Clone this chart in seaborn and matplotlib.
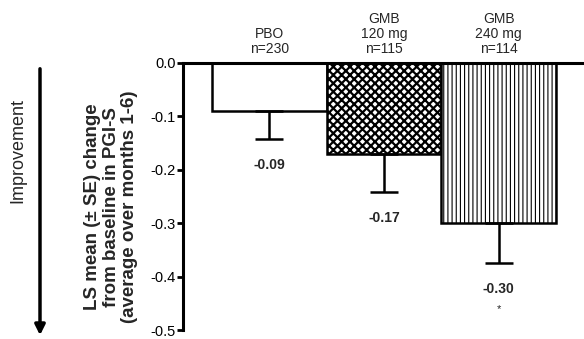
import matplotlib
matplotlib.use("Agg")
import matplotlib.pyplot as plt
import seaborn as sns
import pandas as pd
import numpy as np

sns.set_theme(style="white")
plt.rcParams['font.family'] = ['Liberation Sans', 'DejaVu Sans']
plt.rcParams['axes.unicode_minus'] = False
plt.rcParams['hatch.linewidth'] = 1.0

groups = ["PBO\nn=230", "GMB\n120 mg\nn=115", "GMB\n240 mg\nn=114"]
means = [-0.09, -0.17, -0.30]
ses = [0.052, 0.072, 0.075]
value_labels = ["-0.09", "-0.17", "-0.30"]
sig = ["", "", "*"]
yticks = [0.0, -0.1, -0.2, -0.3, -0.4, -0.5]
ytick_labels = ["0.0", "-0.1", "-0.2", "-0.3", "-0.4", "-0.5"]

df = pd.DataFrame({"group": groups, "mean": means})

fig = plt.figure(figsize=(5.84, 3.39), dpi=100)
ax = fig.add_axes([183/584, 1 - 330/339, 1 - 183/584, (330 - 63)/339])

sns.barplot(data=df, x="group", y="mean", ax=ax, color="white", width=1.0,
            edgecolor="black", linewidth=1.8, saturation=1, errorbar=None)

hatches = [None, "xxxx", "||||"]
for p, h in zip(ax.patches, hatches):
    p.set_facecolor("white")
    p.set_edgecolor("black")
    p.set_linewidth(1.8)
    if h:
        p.set_hatch(h)
        try:
            p.set_hatch_linewidth(1.6 if h.startswith("x") else 0.8)
        except Exception:
            pass

x = np.arange(len(groups))
ax.errorbar(x, means, yerr=[ses, [0]*len(ses)], fmt="none", ecolor="black",
            elinewidth=1.8, capsize=10, capthick=1.8)

for xi, m, s, lab, st in zip(x, means, ses, value_labels, sig):
    ax.annotate(lab, (xi, m - s), xytext=(0, -18.5), textcoords="offset points",
                ha="center", va="center", fontsize=10, fontweight="bold")
    if st:
        ax.annotate(st, (xi, m - s), xytext=(0, -33), textcoords="offset points",
                    ha="center", va="center", fontsize=8)
    ax.annotate(groups[xi], (xi, 0), xytext=(0, 5), textcoords="offset points",
                ha="center", va="bottom", fontsize=10, linespacing=1.1,
                annotation_clip=False)

ax.set_xlim(-0.752, 2.745)
ax.set_ylim(-0.5, 0)
ax.set_yticks(yticks)
ax.set_yticklabels(ytick_labels, fontsize=10.5)
ax.set_xticks([])
ax.set_xlabel("")
ax.set_ylabel("")
for s in ["right", "bottom"]:
    ax.spines[s].set_visible(False)
ax.spines["left"].set_linewidth(2.2)
ax.spines["left"].set_color("black")
ax.spines["top"].set_linewidth(2.2)
ax.spines["top"].set_color("black")
ax.tick_params(axis="y", direction="out", length=4, width=2, color="black",
               left=True, pad=1, labelcolor="black")

fig.text(111/584, 1 - 207/339,
         "LS mean (\u00b1 SE) change\nfrom baseline in PGI-S\n(average over months 1-6)",
         rotation=90, ha="center", va="center", fontsize=13.5, fontweight="bold",
         multialignment="center", linespacing=1.1)
fig.text(18/584, 1 - 151/339, "Improvement", rotation=90, ha="center",
         va="center", fontsize=13)
fig.add_artist(matplotlib.patches.FancyArrowPatch(
    (40/584, 1 - 66/339), (40/584, 1 - 338/339), transform=fig.transFigure,
    arrowstyle="-|>,head_length=6,head_width=3", mutation_scale=1,
    lw=2.5, color="black"))

fig.savefig("out.png", dpi=100)
